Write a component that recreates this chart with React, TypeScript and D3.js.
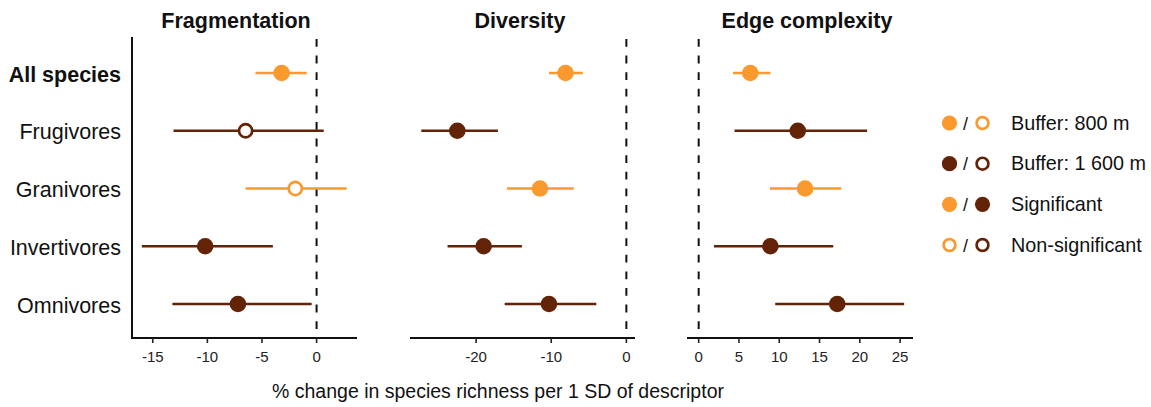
import React from "react";
import * as d3 from "d3";

const categories = ["All species", "Frugivores", "Granivores", "Invertivores", "Omnivores"];
const descriptors = ["Fragmentation", "Diversity", "Edge complexity"];

const fragEst = [-3.2, -6.5, -1.95, -10.2, -7.2];
const fragLo = [-5.6, -13.1, -6.5, -16.0, -13.2];
const fragHi = [-0.9, 0.65, 2.75, -4.0, -0.45];
const fragBuffer = [800, 1600, 800, 1600, 1600];
const fragSig = [true, false, false, true, true];

const divEst = [-8.1, -22.5, -11.5, -19.0, -10.3];
const divLo = [-10.3, -27.3, -15.9, -23.8, -16.2];
const divHi = [-5.8, -17.1, -7.0, -13.9, -4.0];
const divBuffer = [800, 1600, 800, 1600, 1600];
const divSig = [true, true, true, true, true];

const edgeEst = [6.4, 12.3, 13.2, 8.9, 17.2];
const edgeLo = [4.25, 4.45, 8.85, 1.9, 9.5];
const edgeHi = [8.9, 20.9, 17.7, 16.7, 25.5];
const edgeBuffer = [800, 1600, 800, 1600, 1600];
const edgeSig = [true, true, true, true, true];

const fragTicks = [-15, -10, -5, 0];
const divTicks = [-20, -10, 0];
const edgeTicks = [0, 5, 10, 15, 20, 25];

const legendLabels = ["Buffer: 800 m", "Buffer: 1 600 m", "Significant", "Non-significant"];

const ORANGE = "#FA9A2E";
const BROWN = "#632306";
const FONT = "'Liberation Sans', Arial, Helvetica, sans-serif";

const W = 1151;
const H = 407;
const TOP = 37;
const BOTTOM = 338;

const panels = [
  { title: descriptors[0], est: fragEst, lo: fragLo, hi: fragHi, buf: fragBuffer, sig: fragSig, ticks: fragTicks, domain: [-16.9, 3.7], range: [132, 357], titleX: 236, yAxis: true },
  { title: descriptors[1], est: divEst, lo: divLo, hi: divHi, buf: divBuffer, sig: divSig, ticks: divTicks, domain: [-28.8, 1.15], range: [410, 635], titleX: 520, yAxis: false },
  { title: descriptors[2], est: edgeEst, lo: edgeLo, hi: edgeHi, buf: edgeBuffer, sig: edgeSig, ticks: edgeTicks, domain: [-1.45, 26.6], range: [687, 913], titleX: 807, yAxis: false },
];

const y = d3.scalePoint<string>().domain(categories).range([73, 304]);

function colorFor(buf: number) {
  return buf === 800 ? ORANGE : BROWN;
}

function Marker({ cx, cy, color, filled, r }: { cx: number; cy: number; color: string; filled: boolean; r: number }) {
  return filled ? (
    <circle cx={cx} cy={cy} r={r} fill={color} />
  ) : (
    <circle cx={cx} cy={cy} r={r - 1.7} fill="#fff" stroke={color} strokeWidth={2.7} />
  );
}

export default function App() {
  const legendY = d3.scalePoint<string>().domain(legendLabels).range([123, 245]);
  const legendMarkers: [string, boolean, string, boolean][] = [
    [ORANGE, true, ORANGE, false],
    [BROWN, true, BROWN, false],
    [ORANGE, true, BROWN, true],
    [ORANGE, false, BROWN, false],
  ];
  return (
    <svg width={W} height={H} style={{ position: "absolute", left: 0, top: 0, background: "#fff" }} fontFamily={FONT}>
      <rect width={W} height={H} fill="#fff" />
      {panels.map((p, pi) => {
        const x = d3.scaleLinear().domain(p.domain).range(p.range);
        return (
          <g key={pi}>
            <text x={p.titleX} y={28} textAnchor="middle" fontSize={21.5} fontWeight="bold" fill="#111">
              {p.title}
            </text>
            <line x1={x(0)} x2={x(0)} y1={TOP} y2={BOTTOM} stroke="#111" strokeWidth={2} strokeDasharray="7.8 8.8" strokeDashoffset={-2} />
            {p.yAxis && <line x1={p.range[0]} x2={p.range[0]} y1={TOP} y2={BOTTOM + 1} stroke="#111" strokeWidth={2} />}
            <line x1={p.range[0] - (p.yAxis ? 1 : 0)} x2={p.range[1]} y1={BOTTOM} y2={BOTTOM} stroke="#111" strokeWidth={2} />
            {p.ticks.map((t) => (
              <g key={t}>
                <line x1={x(t)} x2={x(t)} y1={BOTTOM} y2={BOTTOM + 5} stroke="#222" strokeWidth={1.6} />
                <text x={x(t)} y={362} textAnchor="middle" fontSize={15} fill="#222">
                  {t}
                </text>
              </g>
            ))}
            {categories.map((c, i) => {
              const col = colorFor(p.buf[i]);
              const cy = y(c) as number;
              return (
                <g key={c}>
                  <line x1={x(p.lo[i])} x2={x(p.hi[i])} y1={cy} y2={cy} stroke={col} strokeWidth={2.5} />
                  <Marker cx={x(p.est[i])} cy={cy} color={col} filled={p.sig[i]} r={8.3} />
                </g>
              );
            })}
          </g>
        );
      })}
      {categories.map((c, i) => (
        <text key={c} x={121} y={(y(c) as number) + 8.5} textAnchor="end" fontSize={21.5} fontWeight={i === 0 ? "bold" : "normal"} fill="#111">
          {c}
        </text>
      ))}
      <text x={498} y={398} textAnchor="middle" fontSize={19.5} fill="#111">
        % change in species richness per 1 SD of descriptor
      </text>
      {legendLabels.map((l, i) => {
        const ly = legendY(l) as number;
        const m = legendMarkers[i];
        return (
          <g key={l}>
            <Marker cx={949.5} cy={ly} color={m[0]} filled={m[1]} r={7.6} />
            <text x={965.5} y={ly + 6.5} textAnchor="middle" fontSize={18} fill="#111">/</text>
            <Marker cx={982.5} cy={ly} color={m[2]} filled={m[3]} r={7.6} />
            <text x={1011} y={ly + 6.8} fontSize={19.8} fill="#111">
              {l}
            </text>
          </g>
        );
      })}
    </svg>
  );
}
